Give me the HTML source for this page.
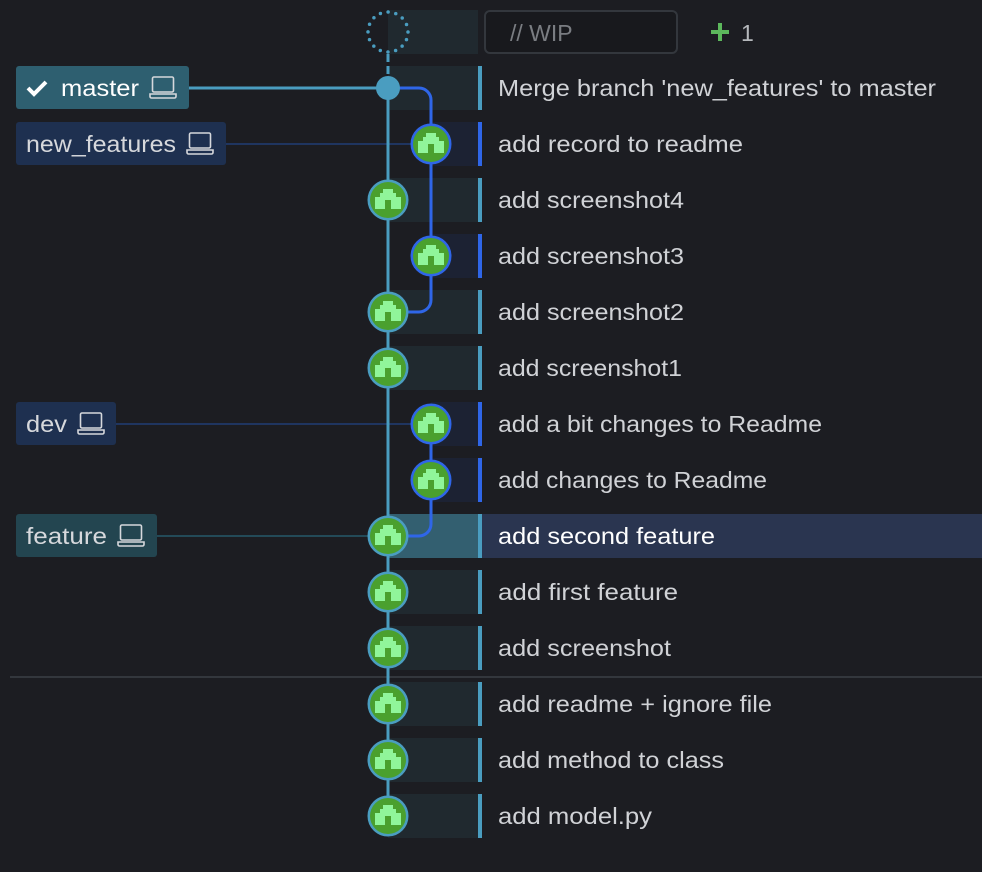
<!DOCTYPE html>
<html><head><meta charset="utf-8"><style>
html,body{margin:0;padding:0;background:#1c1d22;width:982px;height:872px;overflow:hidden}
svg{display:block}
text{font-family:"Liberation Sans","DejaVu Sans",sans-serif}
</style></head><body>
<svg width="982" height="872" viewBox="0 0 982 872" xmlns="http://www.w3.org/2000/svg">
<defs>
<g id="av">
<circle r="18" fill="#4aa02e"/>
<rect x="-5" y="-11" width="10" height="4" fill="#90f59a"/>
<rect x="-8" y="-7" width="16" height="4" fill="#90f59a"/>
<rect x="-13" y="-3" width="26" height="3" fill="#90f59a"/>
<rect x="-13" y="0" width="10" height="9" fill="#90f59a"/>
<rect x="3" y="0" width="10" height="9" fill="#90f59a"/>
</g>
<g id="lap" fill="none" stroke="#d6d8dc" stroke-width="1.6">
<rect x="2.5" y="0" width="21" height="15" rx="1.5"/>
<path d="M0 17 H26 V19.5 a1.5 1.5 0 0 1 -1.5 1.5 H1.5 A1.5 1.5 0 0 1 0 19.5 Z"/>
</g>
</defs>

<g>
<rect x="388" y="10" width="90" height="44" fill="#20292f"/>
<rect x="388" y="66" width="90" height="44" fill="#20292f"/><rect x="478" y="66" width="4" height="44" fill="#4a9dc0"/>
<rect x="431" y="122" width="47" height="44" fill="#1c2233"/><rect x="478" y="122" width="4" height="44" fill="#2f66e8"/>
<rect x="388" y="178" width="90" height="44" fill="#20292f"/><rect x="478" y="178" width="4" height="44" fill="#4a9dc0"/>
<rect x="431" y="234" width="47" height="44" fill="#1c2233"/><rect x="478" y="234" width="4" height="44" fill="#2f66e8"/>
<rect x="388" y="290" width="90" height="44" fill="#20292f"/><rect x="478" y="290" width="4" height="44" fill="#4a9dc0"/>
<rect x="388" y="346" width="90" height="44" fill="#20292f"/><rect x="478" y="346" width="4" height="44" fill="#4a9dc0"/>
<rect x="431" y="402" width="47" height="44" fill="#1c2233"/><rect x="478" y="402" width="4" height="44" fill="#2f66e8"/>
<rect x="431" y="458" width="47" height="44" fill="#1c2233"/><rect x="478" y="458" width="4" height="44" fill="#2f66e8"/>
<rect x="388" y="514" width="90" height="44" fill="#335f70"/><rect x="478" y="514" width="4" height="44" fill="#4a9dc0"/><rect x="482" y="514" width="500" height="44" fill="#2a3550"/>
<rect x="388" y="570" width="90" height="44" fill="#20292f"/><rect x="478" y="570" width="4" height="44" fill="#4a9dc0"/>
<rect x="388" y="626" width="90" height="44" fill="#20292f"/><rect x="478" y="626" width="4" height="44" fill="#4a9dc0"/>
<rect x="388" y="682" width="90" height="44" fill="#20292f"/><rect x="478" y="682" width="4" height="44" fill="#4a9dc0"/>
<rect x="388" y="738" width="90" height="44" fill="#20292f"/><rect x="478" y="738" width="4" height="44" fill="#4a9dc0"/>
<rect x="388" y="794" width="90" height="44" fill="#20292f"/><rect x="478" y="794" width="4" height="44" fill="#4a9dc0"/>
</g>
<rect x="10" y="676" width="972" height="2" fill="#33373d"/>

<line x1="188" y1="88" x2="388" y2="88" stroke="#4a9dc0" stroke-width="3"/>
<line x1="225" y1="144" x2="431" y2="144" stroke="#1f3560" stroke-width="2"/>
<line x1="115" y1="424" x2="431" y2="424" stroke="#1f3560" stroke-width="2"/>
<line x1="156" y1="536" x2="388" y2="536" stroke="#234a58" stroke-width="2"/>

<line x1="388" y1="88" x2="388" y2="816" stroke="#4a9dc0" stroke-width="3"/>
<line x1="388" y1="54" x2="388" y2="76" stroke="#4a9dc0" stroke-width="3" stroke-dasharray="8 4"/>
<path d="M388 88 H419 a12 12 0 0 1 12 12 V300 a12 12 0 0 1 -12 12 H388" fill="none" stroke="#2f66e8" stroke-width="3"/>
<path d="M431 424 V524 a12 12 0 0 1 -12 12 H388" fill="none" stroke="#2f66e8" stroke-width="3"/>

<circle cx="388" cy="32" r="20" fill="none" stroke="#4a9dc0" stroke-width="3.5" stroke-linecap="round" stroke-dasharray="0 7.85"/>
<circle cx="388" cy="88" r="12" fill="#4a9dc0"/>
<rect x="485" y="11" width="192" height="42" rx="5" fill="#18191d" stroke="#33373d" stroke-width="2"/>
<text x="510" y="41" font-size="23" fill="#7a7d82">// WIP</text>
<rect x="711" y="30" width="18" height="4" fill="#5cb85c"/><rect x="718" y="23" width="4" height="18" fill="#5cb85c"/>
<text x="741" y="41" font-size="23" fill="#b5b8bc">1</text>

<g stroke-width="3">
<g transform="translate(431,144)"><circle r="19" fill="#4aa02e" stroke="#2f66e8"/><use href="#av"/></g>
<g transform="translate(388,200)"><circle r="19" fill="#4aa02e" stroke="#4a9dc0"/><use href="#av"/></g>
<g transform="translate(431,256)"><circle r="19" fill="#4aa02e" stroke="#2f66e8"/><use href="#av"/></g>
<g transform="translate(388,312)"><circle r="19" fill="#4aa02e" stroke="#4a9dc0"/><use href="#av"/></g>
<g transform="translate(388,368)"><circle r="19" fill="#4aa02e" stroke="#4a9dc0"/><use href="#av"/></g>
<g transform="translate(431,424)"><circle r="19" fill="#4aa02e" stroke="#2f66e8"/><use href="#av"/></g>
<g transform="translate(431,480)"><circle r="19" fill="#4aa02e" stroke="#2f66e8"/><use href="#av"/></g>
<g transform="translate(388,536)"><circle r="19" fill="#4aa02e" stroke="#4a9dc0"/><use href="#av"/></g>
<g transform="translate(388,592)"><circle r="19" fill="#4aa02e" stroke="#4a9dc0"/><use href="#av"/></g>
<g transform="translate(388,648)"><circle r="19" fill="#4aa02e" stroke="#4a9dc0"/><use href="#av"/></g>
<g transform="translate(388,704)"><circle r="19" fill="#4aa02e" stroke="#4a9dc0"/><use href="#av"/></g>
<g transform="translate(388,760)"><circle r="19" fill="#4aa02e" stroke="#4a9dc0"/><use href="#av"/></g>
<g transform="translate(388,816)"><circle r="19" fill="#4aa02e" stroke="#4a9dc0"/><use href="#av"/></g>
</g>

<rect x="16" y="66" width="173" height="43" rx="3" fill="#2e5f70"/>
<path d="M28 88 l6 6 l12 -12" fill="none" stroke="#fff" stroke-width="4"/>
<text x="61" y="96" font-size="23" fill="#fff" textLength="78" lengthAdjust="spacingAndGlyphs">master</text>
<use href="#lap" x="150" y="77"/>
<rect x="16" y="122" width="210" height="43" rx="3" fill="#1e3050"/>
<text x="26" y="152" font-size="23" fill="#d6d8dc" textLength="150" lengthAdjust="spacingAndGlyphs">new_features</text>
<use href="#lap" x="187" y="133"/>
<rect x="16" y="402" width="100" height="43" rx="3" fill="#1e3050"/>
<text x="26" y="432" font-size="23" fill="#d6d8dc" textLength="41" lengthAdjust="spacingAndGlyphs">dev</text>
<use href="#lap" x="78" y="413"/>
<rect x="16" y="514" width="141" height="43" rx="3" fill="#234550"/>
<text x="26" y="544" font-size="23" fill="#d6d8dc" textLength="81" lengthAdjust="spacingAndGlyphs">feature</text>
<use href="#lap" x="118" y="525"/>

<g font-size="23" fill="#d0d2d6">
<text x="498" y="96" textLength="438" lengthAdjust="spacingAndGlyphs">Merge branch 'new_features' to master</text>
<text x="498" y="152" textLength="245" lengthAdjust="spacingAndGlyphs">add record to readme</text>
<text x="498" y="208" textLength="186" lengthAdjust="spacingAndGlyphs">add screenshot4</text>
<text x="498" y="264" textLength="186" lengthAdjust="spacingAndGlyphs">add screenshot3</text>
<text x="498" y="320" textLength="186" lengthAdjust="spacingAndGlyphs">add screenshot2</text>
<text x="498" y="376" textLength="184" lengthAdjust="spacingAndGlyphs">add screenshot1</text>
<text x="498" y="432" textLength="324" lengthAdjust="spacingAndGlyphs">add a bit changes to Readme</text>
<text x="498" y="488" textLength="269" lengthAdjust="spacingAndGlyphs">add changes to Readme</text>
<text x="498" y="544" fill="#ffffff" textLength="217" lengthAdjust="spacingAndGlyphs">add second feature</text>
<text x="498" y="600" textLength="180" lengthAdjust="spacingAndGlyphs">add first feature</text>
<text x="498" y="656" textLength="173" lengthAdjust="spacingAndGlyphs">add screenshot</text>
<text x="498" y="712" textLength="274" lengthAdjust="spacingAndGlyphs">add readme + ignore file</text>
<text x="498" y="768" textLength="226" lengthAdjust="spacingAndGlyphs">add method to class</text>
<text x="498" y="824" textLength="154" lengthAdjust="spacingAndGlyphs">add model.py</text>
</g>
</svg>
</body></html>
